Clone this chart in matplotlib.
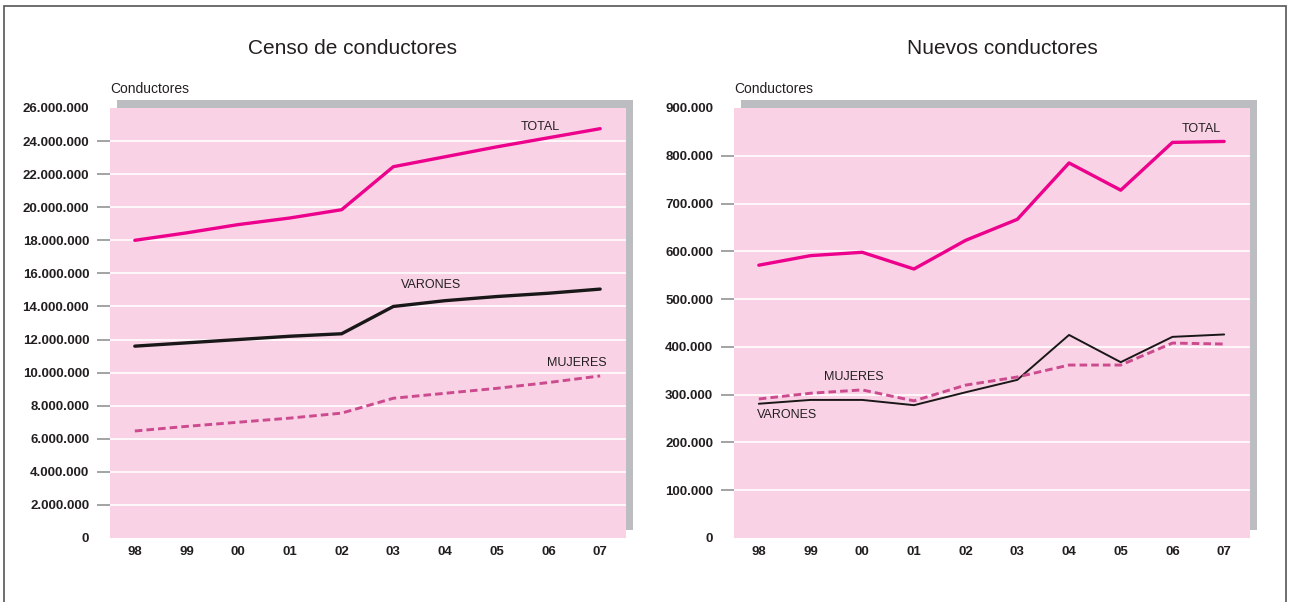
import matplotlib.pyplot as plt
from matplotlib.patches import Rectangle
from matplotlib.ticker import FuncFormatter

# Data
years = ['98', '99', '00', '01', '02', '03', '04', '05', '06', '07']

censo_total = [18.0e6, 18.45e6, 18.95e6, 19.35e6, 19.85e6, 22.45e6, 23.05e6, 23.65e6, 24.2e6, 24.75e6]
censo_varones = [11.6e6, 11.8e6, 12.0e6, 12.2e6, 12.35e6, 14.0e6, 14.35e6, 14.6e6, 14.8e6, 15.05e6]
censo_mujeres = [6.47e6, 6.75e6, 7.0e6, 7.25e6, 7.55e6, 8.45e6, 8.75e6, 9.05e6, 9.4e6, 9.8e6]

nuevos_total = [571e3, 591e3, 598e3, 563e3, 623e3, 667e3, 785e3, 728e3, 828e3, 830e3]
nuevos_varones = [281e3, 289e3, 289e3, 278e3, 305e3, 331e3, 425e3, 368e3, 421e3, 426e3]
nuevos_mujeres = [291e3, 303e3, 310e3, 287e3, 320e3, 337e3, 362e3, 362e3, 408e3, 406e3]

censo_ticks = [i * 2e6 for i in range(14)]
nuevos_ticks = [i * 100e3 for i in range(10)]

PINK_BG = '#f9d3e5'
SHADOW = '#bcbdc0'
TOTAL_C = '#ec008c'
MUJ_C = '#cc4a8e'
TXT = '#231f20'

plt.rcParams['font.family'] = ['Liberation Sans Narrow', 'Liberation Sans', 'DejaVu Sans']

W, H = 1291, 602
fig = plt.figure(figsize=(W / 100, H / 100), dpi=100)

# outer frame (open at the bottom edge of the image)
fig.patches.append(Rectangle((4 / W, -0.05), 1282 / W, (H - 6) / H + 0.05,
                             transform=fig.transFigure, fill=False,
                             edgecolor='#555555', linewidth=1.2, zorder=-2))


def thousands(v, pos):
    return f'{v:,.0f}'.replace(',', '.')


def make_panel(x0, title, title_x, ticks, total, varones, mujeres, var_lw, labels):
    left, bottom = x0 / W, (H - 538) / H
    width, height = 516 / W, 430 / H
    # grey drop shadow behind the plotting area
    fig.patches.append(Rectangle(((x0 + 7) / W, (H - 530) / H), width, height,
                                 transform=fig.transFigure, facecolor=SHADOW,
                                 edgecolor='none', zorder=-1))
    ax = fig.add_axes([left, bottom, width, height])
    ax.set_zorder(1)
    ax.set_facecolor(PINK_BG)
    for s in ax.spines.values():
        s.set_visible(False)

    x = list(range(len(years)))
    ax.plot(x, total, color=TOTAL_C, lw=2.4, solid_capstyle='round', zorder=4)
    ax.plot(x, varones, color='#1a1718', lw=var_lw, solid_capstyle='round', zorder=3)
    ax.plot(x, mujeres, color=MUJ_C, lw=2.1, dashes=(2.6, 1.4), zorder=3)

    ax.set_xlim(-0.48, 9.5)
    ax.set_ylim(0, ticks[-1])
    ax.set_yticks(ticks)
    ax.yaxis.set_major_formatter(FuncFormatter(thousands))
    ax.set_xticks(x)
    ax.set_xticklabels(years)
    ax.tick_params(axis='y', length=9.5, width=1.1, color='#8a8a8a', pad=5.5,
                   labelsize=9.5, labelcolor=TXT)
    ax.tick_params(axis='x', length=0, pad=6, labelsize=9.5, labelcolor=TXT)
    for lab in ax.get_xticklabels() + ax.get_yticklabels():
        lab.set_fontweight('bold')
    yt = ax.yaxis.get_major_ticks()
    yt[0].tick1line.set_visible(False)
    yt[-1].tick1line.set_visible(False)

    for t in ticks[1:-1]:
        ax.axhline(t, color='white', lw=1.2, zorder=1)

    for txt, xx, yy in labels:
        ax.text(xx, yy, txt, fontsize=9, color=TXT, ha='center', va='center', zorder=5)

    fig.text(title_x / W, (H - 49) / H, title, fontsize=15, color=TXT,
             ha='center', va='center')
    fig.text(x0 / W, (H - 89) / H, 'Conductores', fontsize=10, color=TXT,
             ha='left', va='center')
    return ax


make_panel(110, 'Censo de conductores', 352, censo_ticks,
           censo_total, censo_varones, censo_mujeres, 2.4,
           [('TOTAL', 7.85, 24.85e6), ('VARONES', 5.73, 15.3e6), ('MUJERES', 8.55, 10.58e6)])
make_panel(734, 'Nuevos conductores', 1002, nuevos_ticks,
           nuevos_total, nuevos_varones, nuevos_mujeres, 1.4,
           [('TOTAL', 8.55, 856e3), ('MUJERES', 1.84, 337e3), ('VARONES', 0.54, 257e3)])

fig.savefig('out.png', dpi=100, facecolor='white')
